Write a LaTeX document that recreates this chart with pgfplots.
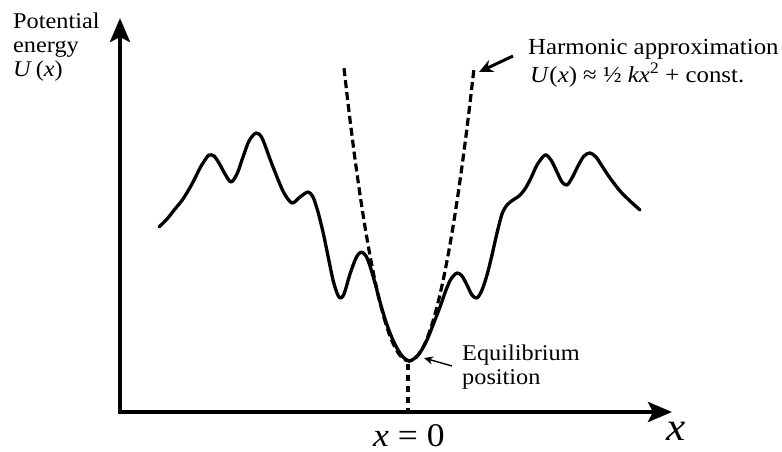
\documentclass[border=0pt]{standalone}
\usepackage{fontspec}
\setmainfont{Liberation Serif}[FakeStretch=1.08]
\usepackage{pgfplots}
\pgfplotsset{compat=1.18}
\usetikzlibrary{arrows.meta}
\begin{document}
\begin{tikzpicture}
\begin{axis}[
  scale only axis, width=782pt, height=452pt,
  xmin=0, xmax=782, ymin=0, ymax=452, y dir=reverse,
  hide axis, clip=false]
% solid potential curve (pixel coordinates)
\addplot[black, line width=3.3pt, smooth, tension=0.5, line join=round, line cap=round] coordinates {
(159,227) (167,219) (175,209) (183,199) (192,184) (200,168) (205,160) (209,155) (214,156) (219,163) (225,174) (231,182) (237,174) (243,157) (249,141) (256,133) (262,138) (270,159) (277,177) (284,193) (292,203) (300,197) (308,192) (313,197) (318,212) (323,232) (328,256) (333,280) (337,293) (340,298) (344,294) (350,274) (356,258) (361,252) (366,256) (370,266) (375,283) (380,302) (386,322) (392,338) (398,350) (403,357) (409,361) (415,358) (421,351) (427,340) (433,325) (440,307) (446,290) (451,279) (457,273) (462,276) (467,285) (472,295) (477,298) (482,290) (487,275) (492,255) (497,233) (502,214) (507,205) (513,200) (519,196) (525,189) (531,178) (537,165) (545,155) (551,160) (557,172) (562,182) (567,185) (572,178) (578,166) (584,156) (590,153) (596,157) (602,166) (610,178) (620,191) (630,201) (640,210)
};
% dashed harmonic approximation
\addplot[black, line width=3.2pt, smooth, dash pattern=on 8pt off 4pt] coordinates {
(344,68.2) (349,111.5) (354,151.4) (359,187.7) (364,220.7) (369,250.1) (374,276.1) (379,298.6) (384,317.7) (389,333.3) (394,345.4) (399,354.1) (404,359.3) (409,361) (414,359.3) (419,354.1) (424,345.4) (429,333.3) (434,317.7) (439,298.6) (444,276.1) (449,250.1) (454,220.7) (459,187.7) (464,151.4) (469,111.5) (474,68.2)
};
% dotted vertical at x = 0
\addplot[black, line width=4.5pt, dash pattern=on 6pt off 5pt] coordinates {(408,364) (408,410)};
% axes
\draw[black, line width=4pt, line join=miter,
  {Stealth[length=24pt, width=20pt, inset=5pt]}-{Stealth[length=24pt, width=20pt, inset=5pt]}]
  (axis cs:120,18) -- (axis cs:120,412) -- (axis cs:672,412);
% annotations
\node[anchor=base west, inner sep=0pt, font=\fontsize{22.5pt}{24pt}\selectfont] at (axis cs:13,29) {Potential};
\node[anchor=base west, inner sep=0pt, font=\fontsize{22.5pt}{24pt}\selectfont] at (axis cs:13,53) {energy};
\node[anchor=base west, inner sep=0pt, font=\fontsize{22.5pt}{24pt}\selectfont] at (axis cs:13,77) {\textit{U}\,(\textit{x})};
\node[anchor=base west, inner sep=0pt, font=\fontsize{23pt}{24pt}\selectfont] at (axis cs:528,55) {Harmonic approximation};
\node[anchor=base west, inner sep=0pt, font=\fontsize{23pt}{24pt}\selectfont] at (axis cs:530,83) {\textit{U}(\textit{x}) ≈ ½ \textit{kx}\textsuperscript{2} + const.};
\node[anchor=base west, inner sep=0pt, font=\fontsize{22.5pt}{24pt}\selectfont] at (axis cs:462,360) {Equilibrium};
\node[anchor=base west, inner sep=0pt, font=\fontsize{22.5pt}{24pt}\selectfont] at (axis cs:462,384) {position};
\node[anchor=base, inner sep=0pt, font=\fontsize{33pt}{36pt}\selectfont] at (axis cs:409,446) {\textit{x} = 0};
\node[anchor=base west, inner sep=0pt, font=\fontsize{40pt}{42pt}\selectfont] at (axis cs:666,440) {\textit{x}};
% arrows
\draw[black, line width=3pt, -{Stealth[length=14pt, width=13pt]}] (axis cs:513,56) -- (axis cs:479,72);
\draw[black, line width=1.4pt, -{Stealth[length=9pt, width=8pt]}] (axis cs:452,366) -- (axis cs:424,358);
\end{axis}
\pgfresetboundingbox
\path (current axis.south west) rectangle (current axis.north east);
\end{tikzpicture}
\end{document}
